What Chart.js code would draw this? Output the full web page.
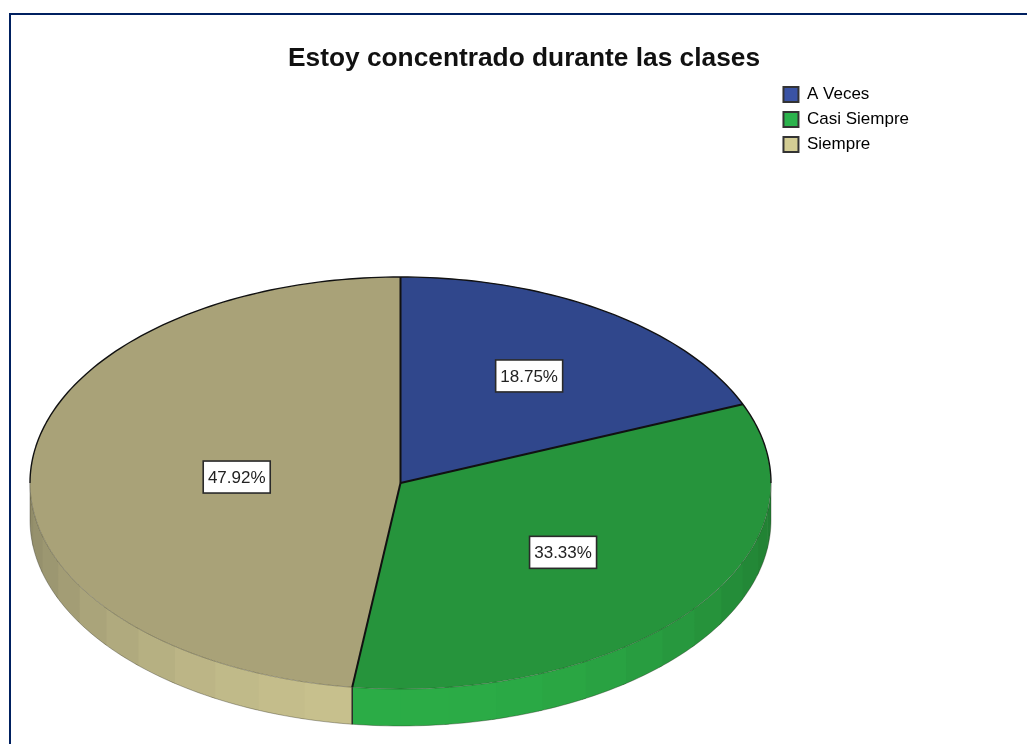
<!DOCTYPE html>
<html lang="es">
<head>
<meta charset="utf-8">
<title>Estoy concentrado durante las clases</title>
<script src="https://cdn.jsdelivr.net/npm/chart.js@4"></script>
<style>
html,body{margin:0;padding:0;background:#fff;overflow:hidden}
#frame{position:absolute;left:9px;top:13px;width:1018px;height:731px;box-sizing:border-box;border-left:2px solid #002060;border-top:2px solid #002060}
canvas{position:absolute;left:0;top:0}
</style>
</head>
<body>
<div id="frame"></div>
<canvas id="c" width="1027" height="744"></canvas>
<script>
const titleText = 'Estoy concentrado durante las clases';
const categories = ['A Veces', 'Casi Siempre', 'Siempre'];
const percentages = [18.75, 33.33, 47.92];

// styles
const sliceColors = ['#30478c', '#26943c', '#a9a278'];
const legendColors = ['#3a53a4', '#2bb24c', '#d3cd94'];
const wallDark = [[33, 50, 100], [33, 125, 50], [143, 138, 104]];
const wallLight = [[48, 71, 140], [43, 172, 70], [200, 193, 142]];
const labelReach = [0.625, 0.553, 0.443];
const ellipse = { cx: 400.5, cy: 483, rx: 370.5, ry: 206, depth: 37 };
const legendShift = { x: 9, y: 78 };
const FONT = '"Liberation Sans", Arial, sans-serif';

function pt(a, down) {
  return [ellipse.cx + Math.cos(a) * ellipse.rx, ellipse.cy + Math.sin(a) * ellipse.ry + (down || 0)];
}
function tracePath(ctx, a0, a1, down) {
  const n = Math.max(2, Math.ceil(Math.abs(a1 - a0) / 0.02));
  for (let i = 0; i <= n; i++) {
    const p = pt(a0 + (a1 - a0) * i / n, down);
    if (i === 0 && down === undefined) ctx.moveTo(p[0], p[1]); else ctx.lineTo(p[0], p[1]);
  }
}

const pie3d = {
  id: 'pie3d',
  afterLayout(chart) {
    chart.legend.left += legendShift.x;
    chart.legend.right += legendShift.x;
    chart.legend.top += legendShift.y;
    chart.legend.bottom += legendShift.y;
  },
  beforeDatasetsDraw(chart) {
    const ctx = chart.ctx;
    const arcs = chart.getDatasetMeta(0).data;
    // side wall, drawn back to front in overlapping bands
    const step = Math.PI / 24;
    arcs.forEach((arc, i) => {
      const from = Math.max(arc.startAngle, 0), to = Math.min(arc.endAngle, Math.PI);
      if (to <= from) return;
      const bands = [];
      for (let k = Math.floor(from / step); k * step < to; k++) bands.push(k);
      bands.forEach(k => {
        const a0 = Math.max(k * step, from), a1 = Math.min((k + 1) * step + 0.012, to);
        const t = Math.pow(Math.sin((k + 0.5) * step), 1.3);
        const c = wallDark[i].map((d, j) => Math.round(d + (wallLight[i][j] - d) * t));
        ctx.fillStyle = `rgb(${c[0]},${c[1]},${c[2]})`;
        ctx.beginPath();
        const p = pt(a0);
        ctx.moveTo(p[0], p[1]);
        tracePath(ctx, a0, a1, 0);
        tracePath(ctx, a1, a0, ellipse.depth);
        ctx.closePath();
        ctx.fill();
      });
    });
    // thin lower edge
    ctx.save();
    ctx.strokeStyle = 'rgba(40,40,30,0.35)';
    ctx.lineWidth = 1;
    ctx.beginPath();
    let p = pt(0);
    ctx.moveTo(p[0], p[1]);
    tracePath(ctx, 0, Math.PI, ellipse.depth);
    p = pt(Math.PI);
    ctx.lineTo(p[0], p[1]);
    ctx.stroke();
    ctx.restore();
    // flatten the library's round pie into the tilted ellipse
    const a = arcs[0];
    ctx.save();
    ctx.translate(ellipse.cx, ellipse.cy);
    ctx.scale(ellipse.rx / a.outerRadius, ellipse.ry / a.outerRadius);
    ctx.translate(-a.x, -a.y);
  },
  afterDatasetsDraw(chart) {
    const ctx = chart.ctx;
    ctx.restore();
    const arcs = chart.getDatasetMeta(0).data;
    ctx.save();
    ctx.lineJoin = 'round';
    // front rim
    ctx.strokeStyle = 'rgba(20,20,10,0.3)';
    ctx.lineWidth = 1;
    ctx.beginPath();
    tracePath(ctx, 0, Math.PI);
    ctx.stroke();
    // back rim
    ctx.strokeStyle = '#111';
    ctx.lineWidth = 1.4;
    ctx.beginPath();
    tracePath(ctx, Math.PI, 2 * Math.PI);
    ctx.stroke();
    // slice separators
    ctx.lineWidth = 2;
    arcs.forEach(arc => {
      const p = pt(arc.startAngle);
      ctx.beginPath();
      ctx.moveTo(ellipse.cx, ellipse.cy);
      ctx.lineTo(p[0], p[1]);
      ctx.stroke();
      if (Math.sin(arc.startAngle) > 0) {
        ctx.lineWidth = 1.4;
        ctx.strokeStyle = '#222';
        ctx.beginPath();
        ctx.moveTo(p[0], p[1]);
        ctx.lineTo(p[0], p[1] + ellipse.depth);
        ctx.stroke();
        ctx.lineWidth = 2;
        ctx.strokeStyle = '#111';
      }
    });
    ctx.restore();
  },
  afterDraw(chart) {
    const ctx = chart.ctx;
    const arcs = chart.getDatasetMeta(0).data;
    ctx.save();
    ctx.font = '17px ' + FONT;
    ctx.textAlign = 'center';
    ctx.textBaseline = 'middle';
    arcs.forEach((arc, i) => {
      const mid = (arc.startAngle + arc.endAngle) / 2;
      const x = ellipse.cx + Math.cos(mid) * ellipse.rx * labelReach[i];
      const y = ellipse.cy + Math.sin(mid) * ellipse.ry * labelReach[i];
      const w = 67, h = 32;
      ctx.fillStyle = '#fff';
      ctx.strokeStyle = '#2a2a2a';
      ctx.lineWidth = 1.6;
      ctx.fillRect(x - w / 2, y - h / 2, w, h);
      ctx.strokeRect(x - w / 2, y - h / 2, w, h);
      ctx.fillStyle = '#222';
      ctx.fillText(percentages[i].toFixed(2) + '%', x, y + 1);
    });
    ctx.restore();
  }
};

new Chart(document.getElementById('c'), {
  type: 'pie',
  data: {
    labels: categories,
    datasets: [{
      data: percentages,
      backgroundColor: sliceColors,
      borderWidth: 0,
      clip: false
    }]
  },
  plugins: [pie3d],
  options: {
    responsive: false,
    animation: false,
    layout: { padding: { left: 138, right: 117, top: 0, bottom: 0 } },
    plugins: {
      tooltip: { enabled: false },
      title: {
        display: true,
        text: titleText,
        color: '#111',
        font: { family: FONT, size: 26.3, weight: 'bold', lineHeight: 1.2 },
        padding: { top: 43, bottom: 4 }
      },
      legend: {
        position: 'right',
        align: 'start',
        labels: {
          boxWidth: 15,
          boxHeight: 15,
          padding: 8,
          color: '#333',
          font: { family: FONT, size: 17 },
          generateLabels() {
            return categories.map((c, i) => ({
              text: c,
              fillStyle: legendColors[i],
              strokeStyle: '#333',
              lineWidth: 2,
              hidden: false,
              index: i
            }));
          }
        }
      }
    }
  }
});
</script>
</body>
</html>
